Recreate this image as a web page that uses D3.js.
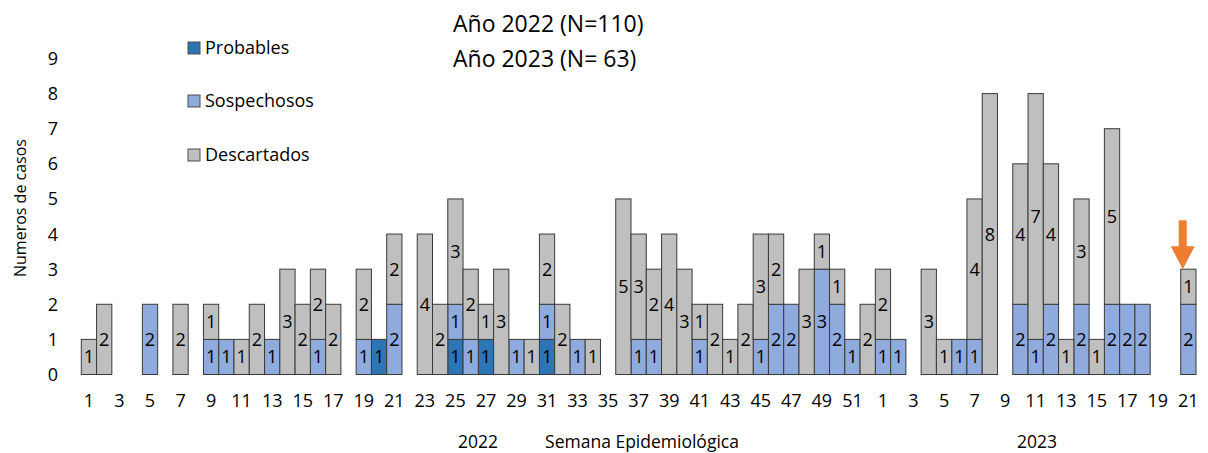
<!DOCTYPE html>
<html>
<head>
<meta charset="utf-8">
<script src="https://cdn.jsdelivr.net/npm/d3@7/dist/d3.min.js"></script>
<style>
  html, body { margin: 0; padding: 0; background: #ffffff; }
  svg { display: block; font-family: "Open Sans", sans-serif; }
</style>
</head>
<body>
<svg id="chart" width="1208" height="453"></svg>
<script>
// Epidemiological weeks per year
const weeks2022 = d3.range(1, 53);
const weeks2023 = d3.range(1, 22);

// Cases per week, 2022 (weeks 1..52)
const probables2022 = [
  0,0,0,0,0, 0,0,0,0,0, 0,0,0,0,0, 0,0,0,0,1, 0,0,0,0,1,
  0,1,0,0,0, 1,0,0,0,0, 0,0,0,0,0, 0,0,0,0,0, 0,0,0,0,0, 0,0
];
const sospechosos2022 = [
  0,0,0,0,2, 0,0,0,1,1, 0,0,1,0,0, 1,0,0,1,0, 2,0,0,0,1,
  1,0,0,1,0, 1,0,1,0,0, 0,1,1,0,0, 1,0,0,0,1, 2,2,0,3,2, 1,0
];
const descartados2022 = [
  1,2,0,0,0, 0,2,0,1,0, 1,2,0,3,2, 2,2,0,2,0, 2,0,4,2,3,
  2,1,3,0,1, 2,2,0,1,0, 5,3,2,4,3, 1,2,1,2,3, 2,0,3,1,1, 0,2
];

// Cases per week, 2023 (weeks 1..21)
const probables2023 = [0,0,0,0,0, 0,0,0,0,0, 0,0,0,0,0, 0,0,0,0,0, 0];
const sospechosos2023 = [1,1,0,0,0, 1,1,0,0,2, 1,2,0,2,0, 2,2,2,0,0, 2];
const descartados2023 = [2,0,0,3,1, 0,4,8,0,4, 7,4,1,3,1, 5,0,0,0,0, 1];

const seriesNames = ["Probables", "Sospechosos", "Descartados"];
const seriesColors = ["#2E75B6", "#8FAADC", "#BFBFBF"];
const yTicks = [0,1,2,3,4,5,6,7,8,9];
const titleLines = ["Año 2022 (N=110)", "Año 2023 (N= 63)"];

// Build one row per week across both years
const rows = [];
weeks2022.forEach((w, i) => rows.push({
  key: "2022-" + w, week: w,
  Probables: probables2022[i], Sospechosos: sospechosos2022[i], Descartados: descartados2022[i]
}));
weeks2023.forEach((w, i) => rows.push({
  key: "2023-" + w, week: w,
  Probables: probables2023[i], Sospechosos: sospechosos2023[i], Descartados: descartados2023[i]
}));

const svg = d3.select("#chart");

const x = d3.scaleBand()
  .domain(rows.map(d => d.key))
  .range([81.3, 1196])
  .padding(0);

const y = d3.scaleLinear()
  .domain([0, 9])
  .range([374.5, 58.5]);

const color = d3.scaleOrdinal().domain(seriesNames).range(seriesColors);

const stacked = d3.stack().keys(seriesNames)(rows);

// Stacked bars
const layers = svg.append("g").selectAll("g")
  .data(stacked)
  .join("g")
  .attr("fill", d => color(d.key));

layers.selectAll("rect")
  .data(d => d.filter(s => s[1] - s[0] > 0))
  .join("rect")
  .attr("x", d => x(d.data.key))
  .attr("width", x.bandwidth())
  .attr("y", d => y(d[1]))
  .attr("height", d => y(d[0]) - y(d[1]))
  .attr("stroke", "#3a3a3a")
  .attr("stroke-width", 1);

// Segment value labels
layers.selectAll("text")
  .data(d => d.filter(s => s[1] - s[0] > 0))
  .join("text")
  .attr("x", d => x(d.data.key) + x.bandwidth() / 2)
  .attr("y", d => (y(d[0]) + y(d[1])) / 2)
  .attr("dy", "0.36em")
  .attr("text-anchor", "middle")
  .attr("font-size", 18)
  .attr("fill", "#000")
  .text(d => d[1] - d[0]);

// Y axis tick labels (no axis line)
svg.append("g").selectAll("text")
  .data(yTicks)
  .join("text")
  .attr("x", 58)
  .attr("y", d => y(d))
  .attr("dy", "0.36em")
  .attr("text-anchor", "end")
  .attr("font-size", 18)
  .attr("fill", "#000")
  .text(d => d);

// X axis tick labels on every other week
svg.append("g").selectAll("text")
  .data(rows.filter((d, i) => i % 2 === 0))
  .join("text")
  .attr("x", d => x(d.key) + x.bandwidth() / 2)
  .attr("y", 401)
  .attr("dy", "0.36em")
  .attr("text-anchor", "middle")
  .attr("font-size", 18)
  .attr("fill", "#000")
  .text(d => d.week);

// Axis titles
svg.append("text")
  .attr("transform", "translate(20,208) rotate(-90)")
  .attr("text-anchor", "middle")
  .attr("dy", "0.36em")
  .attr("font-size", 16)
  .text("Numeros de casos");

svg.append("text")
  .attr("x", 642).attr("y", 442).attr("dy", "0.36em")
  .attr("text-anchor", "middle")
  .attr("font-size", 17.5)
  .text("Semana Epidemiológica");

svg.append("text")
  .attr("x", 478).attr("y", 442).attr("dy", "0.36em")
  .attr("text-anchor", "middle")
  .attr("font-size", 17.5)
  .text("2022");

svg.append("text")
  .attr("x", 1037).attr("y", 442).attr("dy", "0.36em")
  .attr("text-anchor", "middle")
  .attr("font-size", 17.5)
  .text("2023");

// Title block
svg.append("g").selectAll("text")
  .data(titleLines)
  .join("text")
  .attr("x", 453)
  .attr("y", (d, i) => 32 + i * 35)
  .attr("font-size", 23)
  .attr("fill", "#000")
  .text(d => d);

// Legend
const legendY = [48, 101, 155];
const legend = svg.append("g").selectAll("g")
  .data(seriesNames)
  .join("g")
  .attr("transform", (d, i) => `translate(188,${legendY[i]})`);

legend.append("rect")
  .attr("x", 0).attr("y", -6)
  .attr("width", 12).attr("height", 12)
  .attr("fill", d => color(d))
  .attr("stroke", "#4d4d4d")
  .attr("stroke-width", 1);

legend.append("text")
  .attr("x", 17)
  .attr("dy", "0.36em")
  .attr("font-size", 18)
  .attr("fill", "#000")
  .text(d => d);

// Arrow marking the latest week
const last = rows[rows.length - 1];
const lastTotal = last.Probables + last.Sospechosos + last.Descartados;
const tipX = x(last.key) + 2;
const tipY = y(lastTotal);
svg.append("path")
  .attr("d", [
    `M${tipX},${tipY}`,
    `L${tipX - 12},${tipY - 23}`,
    `L${tipX - 4},${tipY - 23}`,
    `L${tipX - 4},${tipY - 49}`,
    `L${tipX + 4},${tipY - 49}`,
    `L${tipX + 4},${tipY - 23}`,
    `L${tipX + 12},${tipY - 23}`,
    "Z"
  ].join(" "))
  .attr("fill", "#ED7D31");
</script>
</body>
</html>
